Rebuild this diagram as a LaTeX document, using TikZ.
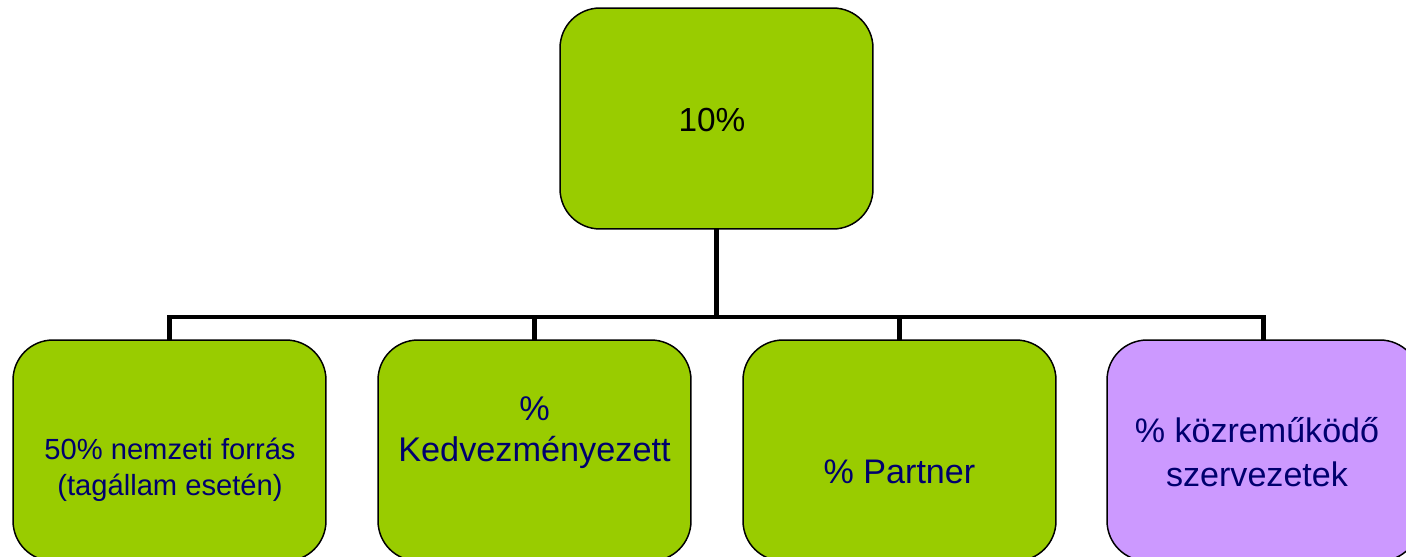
\documentclass[tikz,border=0pt]{standalone}
\usepackage{fontspec}
\setmainfont{Liberation Sans}
\usetikzlibrary{calc}

\definecolor{leaf}{RGB}{153,204,0}
\definecolor{lilac}{RGB}{204,153,255}
\definecolor{navy}{RGB}{0,0,110}

\begin{document}
\begin{tikzpicture}[x=0.02cm, y=-0.02cm,
  box/.style={draw=black, line width=0.85pt, rounded corners=0.8cm,
    minimum width=6.26cm, minimum height=4.42cm, inner sep=0pt},
  txt/.style={align=center, text=navy, inner sep=0pt},
  conn/.style={black, line width=2.8pt}]
\useasboundingbox (0,0) rectangle (1406,557);

\coordinate (J) at (716.5,317);

% connectors first, boxes on top
\coordinate (T) at (716.5,118.5);
\draw[conn] (T) -- (J);
\coordinate (B1) at (169.5,450.5);
\coordinate (B2) at (534.5,450.5);
\coordinate (B3) at (899.5,450.5);
\coordinate (B4) at (1263.5,450.5);
\draw[conn] (B1) |- (J);
\draw[conn] (B2) |- (J);
\draw[conn] (B3) |- (J);
\draw[conn] (B4) |- (J);

\node[box, fill=leaf] (top) at (T) {};
\node[box, fill=leaf] (b1) at (B1) {};
\node[box, fill=leaf] (b2) at (B2) {};
\node[box, fill=leaf] (b3) at (B3) {};
\node[box, fill=lilac] (b4) at (B4) {};

\node[txt, text=black, font=\fontsize{19}{23}\selectfont] (t0) at (712,120) {10\%};
\node[txt, font=\fontsize{16.6}{20.5}\selectfont] (t1) at (170,470) {50\% nemzeti forrás\\ (tagállam esetén)};
\node[txt, font=\fontsize{19.5}{23.5}\selectfont] (t2) at (534.5,433) {\%\\ Kedvezményezett};
\node[txt, font=\fontsize{19.4}{23}\selectfont] (t3) at (899.5,472) {\% Partner};
\node[txt, font=\fontsize{19.4}{25}\selectfont] (t4) at (1257,452) {\% közreműködő\\ szervezetek};

\end{tikzpicture}
\end{document}
